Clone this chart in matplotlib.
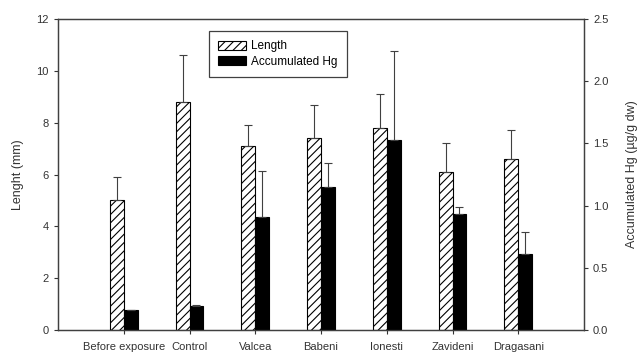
import numpy as np
import matplotlib
matplotlib.use("Agg")
import matplotlib.pyplot as plt
from matplotlib.ticker import FormatStrFormatter

plt.rcParams['font.family'] = ['Liberation Sans', 'DejaVu Sans']
plt.rcParams['hatch.linewidth'] = 0.8

# data
sites = ["Before exposure", "Control", "Valcea", "Babeni", "Ionesti", "Zavideni", "Dragasani"]
length = [5.0, 8.8, 7.1, 7.4, 7.8, 6.1, 6.6]
length_err = [0.9, 1.8, 0.8, 1.3, 1.3, 1.1, 1.1]
hg = [0.16, 0.19, 0.91, 1.15, 1.53, 0.93, 0.61]
hg_err = [0.0, 0.01, 0.37, 0.19, 0.71, 0.06, 0.18]

x = np.arange(len(sites))
w = 0.21
grey = "#404040"

fig = plt.figure(figsize=(6.38, 3.54), dpi=100)
ax = fig.add_axes([0.0909, 0.0678, 0.8245, 0.8785])
ax2 = ax.twinx()

b1 = ax.bar(x - w / 2, length, w, color="white", edgecolor="black",
            hatch="////", linewidth=0.8, label="Length")
ax.errorbar(x - w / 2, length, yerr=[np.zeros(len(x)), length_err], fmt="none",
            ecolor=grey, elinewidth=0.8, capsize=2.6, capthick=0.8)

b2 = ax2.bar(x + w / 2, hg, w, color="black", edgecolor="black",
             linewidth=0.8, label="Accumulated Hg")
ax2.errorbar(x + w / 2, hg, yerr=[np.zeros(len(x)), hg_err], fmt="none",
             ecolor=grey, elinewidth=0.8, capsize=2.6, capthick=0.8)

ax.set_xlim(-1, 7)
ax.set_ylim(0, 12)
ax2.set_ylim(0, 2.5)
ax.set_yticks(range(0, 13, 2))
ax2.set_yticks(np.arange(0, 2.51, 0.5))
ax2.yaxis.set_major_formatter(FormatStrFormatter("%.1f"))
ax.set_xticks(x)
ax.set_xticklabels(sites)

for a in (ax, ax2):
    for s in a.spines.values():
        s.set_color(grey)
        s.set_linewidth(0.9)
    a.tick_params(labelsize=8, colors="#333333", length=3, width=0.8)
ax.tick_params(axis="x", pad=6)

ax.set_ylabel("Lenght (mm)", fontsize=9, color="#333333", labelpad=9)
ax2.set_ylabel("Accumulated Hg (\u00b5g/g dw)", fontsize=9, color="#333333", labelpad=13)

leg = ax.legend([b1, b2], ["Length", "Accumulated Hg"], loc="upper left",
                bbox_to_anchor=(0.287, 0.962), fontsize=8.5, fancybox=False,
                framealpha=1, edgecolor=grey, handlelength=2.3,
                handleheight=0.8, handletextpad=0.5, borderpad=0.8,
                labelspacing=0.3, borderaxespad=0)
leg.get_frame().set_linewidth(0.9)

fig.savefig("out.png", dpi=100)
